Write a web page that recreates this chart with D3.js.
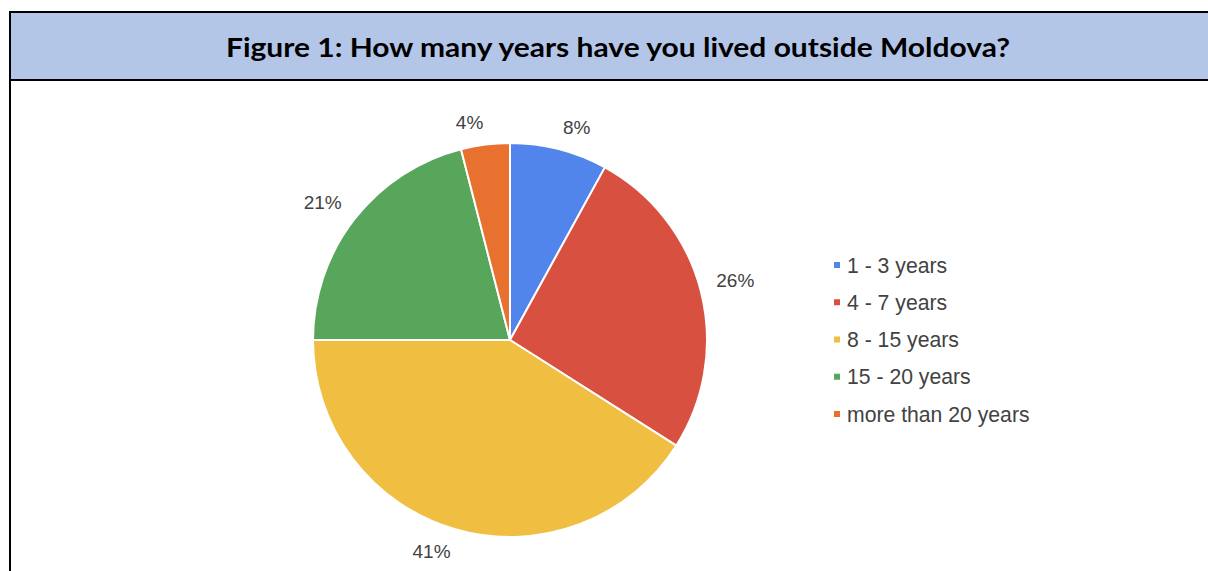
<!DOCTYPE html>
<html>
<head>
<meta charset="utf-8">
<script src="https://cdn.jsdelivr.net/npm/d3@7"></script>
<style>
  html, body { margin: 0; padding: 0; background: #fff; }
  svg { display: block; }
</style>
</head>
<body>
<svg id="chart" width="1208" height="571"></svg>
<script>
// Survey answers: years lived outside Moldova (share of respondents, %)
const categories = ["1 - 3 years", "4 - 7 years", "8 - 15 years", "15 - 20 years", "more than 20 years"];
const shares = [8, 26, 41, 21, 4];
const colors = ["#5185ec", "#d85040", "#f0be41", "#58a55c", "#e8712f"];
const title = "Figure 1: How many years have you lived outside Moldova?";

const W = 1208, H = 571;
const svg = d3.select("#chart");

// Table-style frame with a shaded header row
const frame = svg.append("g");
frame.append("rect").attr("x", 11).attr("y", 13).attr("width", W - 11).attr("height", 66)
  .attr("fill", "#b4c6e7");
frame.append("line").attr("x1", 9).attr("x2", W).attr("y1", 12).attr("y2", 12)
  .attr("stroke", "#000").attr("stroke-width", 2);
frame.append("line").attr("x1", 9).attr("x2", W).attr("y1", 80).attr("y2", 80)
  .attr("stroke", "#000").attr("stroke-width", 2);
frame.append("line").attr("x1", 10).attr("x2", 10).attr("y1", 11).attr("y2", H)
  .attr("stroke", "#000").attr("stroke-width", 2);

frame.append("text")
  .attr("x", 226).attr("y", 57)
  .attr("textLength", 784).attr("lengthAdjust", "spacingAndGlyphs")
  .attr("font-family", "Lato, 'Open Sans', sans-serif")
  .attr("font-weight", 700).attr("font-size", 26.5)
  .attr("fill", "#000")
  .text(title);

// Pie
const cx = 510, cy = 340, radius = 197;
const color = d3.scaleOrdinal().domain(categories).range(colors);
const data = categories.map((c, i) => ({ cat: c, value: shares[i] }));
const pie = d3.pie().value(d => d.value).sort(null);
const arcs = pie(data);
const arc = d3.arc().innerRadius(0).outerRadius(radius);

const g = svg.append("g").attr("transform", `translate(${cx},${cy})`);
g.selectAll("path.slice").data(arcs).join("path")
  .attr("class", "slice")
  .attr("d", arc)
  .attr("fill", d => color(d.data.cat))
  .attr("stroke", "#fff").attr("stroke-width", 2).attr("stroke-linejoin", "round");

// Percentage labels: the corner of each label nearest the centre sits on the slice's mid-angle
const labelR = 213;
g.selectAll("text.pct").data(arcs).join("text")
  .attr("class", "pct")
  .each(function (d) {
    const a = (d.startAngle + d.endAngle) / 2;
    const s = Math.sin(a), c = Math.cos(a);
    const x = s * labelR, y = -c * labelR;
    d3.select(this)
      .attr("x", x)
      .attr("y", c > 0 ? y : y + 13.6)
      .attr("text-anchor", s >= 0 ? "start" : "end");
  })
  .attr("font-family", "'Liberation Sans', Arial, sans-serif")
  .attr("font-size", 19)
  .attr("fill", "#424242")
  .text(d => d.data.value + "%");

// Legend
const legendY = d3.scalePoint().domain(categories).range([265, 414]);
const legend = svg.append("g");
const item = legend.selectAll("g").data(categories).join("g")
  .attr("transform", d => `translate(834,${legendY(d)})`);
item.append("rect").attr("x", 0).attr("y", -3).attr("width", 6).attr("height", 6)
  .attr("fill", d => color(d));
item.append("text").attr("x", 13).attr("y", 0).attr("dy", "0.36em")
  .attr("font-family", "'Liberation Sans', Arial, sans-serif")
  .attr("font-size", 21.2)
  .attr("fill", "#424242")
  .text(d => d);
</script>
</body>
</html>
